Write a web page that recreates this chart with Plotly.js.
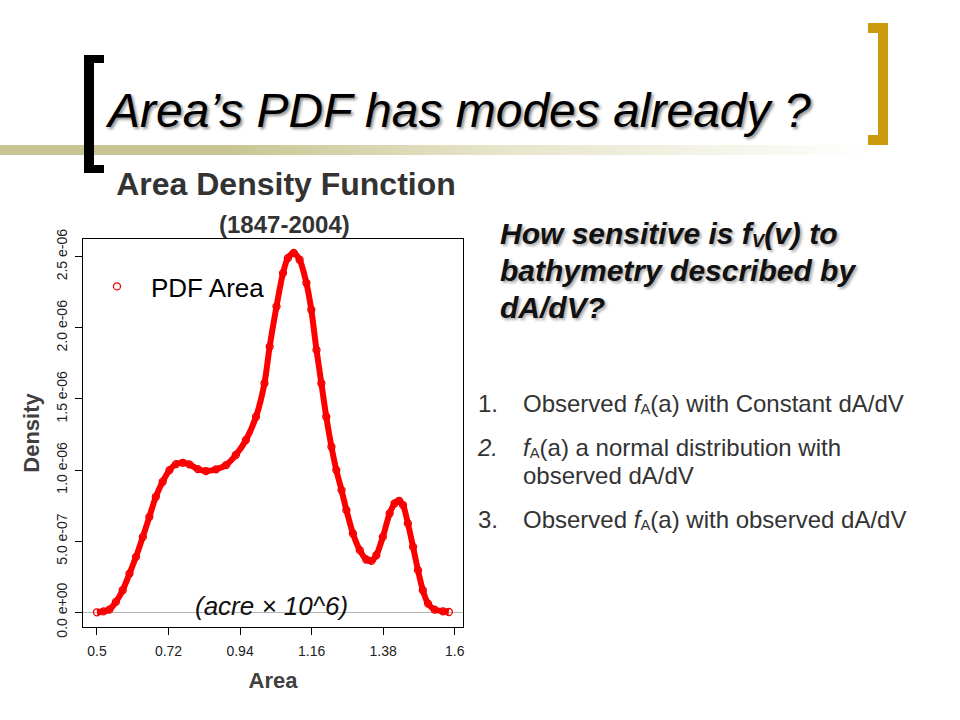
<!DOCTYPE html>
<html>
<head>
<meta charset="utf-8">
<script src="https://cdn.plot.ly/plotly-3.0.1.min.js"></script>
<style>
  html, body { margin:0; padding:0; background:#ffffff; }
  #slide { position:relative; width:960px; height:720px; overflow:hidden; background:#ffffff; font-family:Arial, "Liberation Sans", sans-serif; }
  .deco { position:absolute; z-index:0; }
  #chart { position:absolute; left:0; top:0; width:960px; height:720px; z-index:1; }
  .txt { position:absolute; z-index:2; white-space:nowrap; }
  sub { font-size:0.62em; vertical-align:-0.14em; line-height:0; }
  #title { left:108px; top:87px; font-size:48px; line-height:47px; font-style:italic; color:#000; text-shadow:2px 2px 3px rgba(0,0,0,0.45); }
  #question { left:500px; top:215px; font-size:30px; line-height:37px; font-style:italic; font-weight:bold; color:#111; text-shadow:2px 2px 3px rgba(0,0,0,0.35); }
  .li { position:absolute; z-index:2; font-size:24px; line-height:27px; color:#333; white-space:nowrap; }
  .num { position:absolute; left:478px; }
  .body { position:absolute; left:523px; }
</style>
</head>
<body>
<div id="slide">
  <div class="deco" style="left:0;top:145px;width:900px;height:10px;background:linear-gradient(to right,#c8c593 0%,#c8c593 25%,#e6e4c9 55%,#ffffff 97%);"></div>
  <div class="deco" style="left:84px;top:55px;width:10px;height:118px;background:#000;z-index:3;"></div>
  <div class="deco" style="left:84px;top:55px;width:20px;height:8px;background:#000;z-index:3;"></div>
  <div class="deco" style="left:84px;top:165px;width:20px;height:8px;background:#000;z-index:3;"></div>
  <div class="deco" style="left:878px;top:23px;width:10px;height:122px;background:#cc9a0e;"></div>
  <div class="deco" style="left:868px;top:23px;width:20px;height:10px;background:#cc9a0e;"></div>
  <div class="deco" style="left:868px;top:135px;width:20px;height:10px;background:#cc9a0e;"></div>

  <div id="chart"></div>

  <div id="title" class="txt">Area’s PDF has modes already ?</div>
  <div id="question" class="txt">How sensitive is f<sub>V</sub>(v) to<br>bathymetry described by<br>dA/dV?</div>

  <div class="li" style="top:390px;"><span class="num">1.</span><span class="body">Observed <i>f</i><sub>A</sub>(a) with Constant dA/dV</span></div>
  <div class="li" style="top:434px;"><span class="num"><i>2.</i></span><span class="body"><i>f</i><sub>A</sub>(a) a normal distribution with</span></div>
  <div class="li" style="top:462px;"><span class="body">observed dA/dV</span></div>
  <div class="li" style="top:506px;"><span class="num">3.</span><span class="body">Observed <i>f</i><sub>A</sub>(a) with observed dA/dV</span></div>
</div>

<script>
// ---- data ----
const areaX = [0.500, 0.520, 0.538, 0.558, 0.579, 0.600, 0.620, 0.641, 0.661, 0.681, 0.702,
  0.723, 0.743, 0.764, 0.784, 0.810, 0.835, 0.866, 0.897, 0.927, 0.958, 0.989, 1.015,
  1.031, 1.052, 1.072, 1.087, 1.105, 1.123, 1.144, 1.159, 1.175, 1.190, 1.205, 1.221,
  1.236, 1.252, 1.267, 1.287, 1.308, 1.328, 1.344, 1.359, 1.379, 1.400, 1.415, 1.429,
  1.441, 1.456, 1.472, 1.487, 1.502, 1.518, 1.538, 1.564, 1.582];
// density in units of 1e-6
const densityE6 = [0.000, 0.006, 0.019, 0.073, 0.155, 0.272, 0.390, 0.530, 0.671, 0.812, 0.918,
  1.000, 1.042, 1.051, 1.040, 1.007, 0.993, 1.005, 1.035, 1.106, 1.211, 1.375, 1.610,
  1.868, 2.150, 2.385, 2.490, 2.526, 2.479, 2.315, 2.127, 1.845, 1.610, 1.375, 1.164,
  1.000, 0.859, 0.718, 0.554, 0.437, 0.371, 0.361, 0.401, 0.530, 0.695, 0.765, 0.784,
  0.754, 0.625, 0.460, 0.296, 0.155, 0.061, 0.019, 0.007, 0.002];
const density = densityE6.map(v => v * 1e-6);

const xTickVals = [0.5, 0.72, 0.94, 1.16, 1.38, 1.6];
const xTickText = ['0.5', '0.72', '0.94', '1.16', '1.38', '1.6'];
const yTickVals = [0, 5e-7, 1e-6, 1.5e-6, 2e-6, 2.5e-6];
const yTickText = ['0.0 e+00', '5.0 e-07', '1.0 e-06', '1.5 e-06', '2.0 e-06', '2.5 e-06'];

const seriesName = 'PDF Area';
const chartTitle = 'Area Density Function';
const chartSubtitle = '(1847-2004)';
const unitNote = '(acre × 10^6)';

// ---- layout geometry ----
const W = 960, H = 720;
const M = { l: 83, r: 497, t: 239, b: 93 };
const plotW = W - M.l - M.r, plotH = H - M.t - M.b;
const px2x = px => (px - M.l) / plotW;
const px2y = py => (H - M.b - py) / plotH;

const narrow = '"Liberation Sans Narrow", "Arial Narrow", "Liberation Sans", Arial, sans-serif';
const sans = 'Arial, "Liberation Sans", sans-serif';

const traces = [
  {
    x: areaX, y: density, type: 'scatter', mode: 'lines',
    line: { color: '#ff0000', width: 6, shape: 'spline', smoothing: 0.8 },
    showlegend: false, hoverinfo: 'skip'
  },
  {
    x: areaX, y: density, type: 'scatter', mode: 'markers', name: seriesName,
    marker: { symbol: 'circle-open', color: '#f00000', size: 7, line: { width: 1.3, color: '#f00000' } }
  }
];

const layout = {
  width: W, height: H,
  margin: M,
  paper_bgcolor: 'rgba(0,0,0,0)',
  plot_bgcolor: '#ffffff',
  showlegend: true,
  title: {
    text: '<b>' + chartTitle + '</b>',
    x: 286 / W, xanchor: 'center', xref: 'container',
    y: 1 - 184 / H, yanchor: 'middle', yref: 'container',
    font: { family: sans, size: 32, color: '#333333' }
  },
  xaxis: {
    range: [0.457, 1.6255],
    tickmode: 'array', tickvals: xTickVals, ticktext: xTickText,
    ticks: 'outside', ticklen: 7, tickwidth: 1, tickcolor: '#000',
    showline: true, mirror: true, linecolor: '#000', linewidth: 1,
    showgrid: false, zeroline: false,
    tickfont: { family: narrow, size: 14, color: '#222' },
    ticklabelstandoff: 4,
    title: { text: '<b>Area</b>', standoff: 14, font: { family: sans, size: 22, color: '#404040' } }
  },
  yaxis: {
    range: [-0.1035e-6, 2.6246e-6],
    tickmode: 'array', tickvals: yTickVals, ticktext: yTickText,
    tickangle: -90,
    ticks: 'outside', ticklen: 7, tickwidth: 1, tickcolor: '#000',
    showline: true, mirror: true, linecolor: '#000', linewidth: 1,
    showgrid: false,
    zeroline: true, zerolinecolor: '#b4b4b4', zerolinewidth: 1,
    tickfont: { family: narrow, size: 14, color: '#222' },
    ticklabelstandoff: 2,
    title: { text: '<b>Density</b>', standoff: 8, font: { family: sans, size: 22, color: '#404040' } }
  },
  legend: {
    x: 0, xanchor: 'left', y: px2y(263), yanchor: 'top',
    bgcolor: 'rgba(0,0,0,0)', borderwidth: 0,
    itemwidth: 58,
    font: { family: sans, size: 26, color: '#000' }
  },
  annotations: [
    {
      text: '<b>' + chartSubtitle + '</b>', xref: 'paper', yref: 'paper',
      x: px2x(284), y: px2y(225), xanchor: 'center', yanchor: 'middle', showarrow: false,
      font: { family: sans, size: 24, color: '#333333' }
    },
    {
      text: '<i>' + unitNote + '</i>', xref: 'paper', yref: 'paper',
      x: px2x(271), y: px2y(606), xanchor: 'center', yanchor: 'middle', showarrow: false,
      font: { family: sans, size: 26, color: '#111' }
    }
  ]
};

Plotly.newPlot('chart', traces, layout, { displayModeBar: false, staticPlot: true });
</script>
</body>
</html>
